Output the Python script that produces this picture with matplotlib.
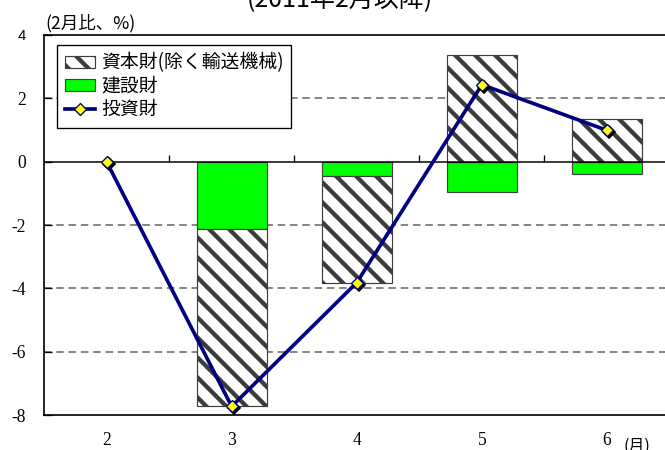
import matplotlib
matplotlib.use("Agg")
import matplotlib.pyplot as plt
import numpy as np
from matplotlib.lines import Line2D
from matplotlib.patches import Patch
from matplotlib.transforms import offset_copy

# ---- data -------------------------------------------------------------
months = [2, 3, 4, 5, 6]
capital = [0.0, -5.59, -3.36, 3.38, 1.35]        # 資本財(除く輸送機械)
construction = [0.0, -2.14, -0.46, -0.97, -0.40]  # 建設財
investment = [0.0, -7.73, -3.82, 2.43, 0.99]      # 投資財
yticks = [4, 2, 0, -2, -4, -6, -8]
series_names = ["資本財(除く輸送機械)", "建設財", "投資財"]
title_text = "(2011年2月以降)"
unit_text = "(2月比、%)"
month_unit = "(月)"

# ---- style ------------------------------------------------------------
CJK = ["Noto Sans CJK JP", "DejaVu Sans"]
SERIF = ["Liberation Serif", "DejaVu Serif"]
SANS = ["Liberation Sans", "DejaVu Sans"]
plt.rcParams["font.family"] = CJK
plt.rcParams["hatch.linewidth"] = 2.6
GREEN = "#00ff00"
NAVY = "#000080"

DPI = 120
fig = plt.figure(figsize=(665 / DPI, 450 / DPI), dpi=DPI)
# the plot area runs a little past the right edge of the figure
ax = fig.add_axes([44 / 665, 1 - 415 / 450,
                   (669.5 - 44) / 665, (415 - 35) / 450])

x = np.array(months, dtype=float)
cap = np.array(capital)
con = np.array(construction)
inv = np.array(investment)
width = 0.56

def edge_widths(vals, lw=0.7):
    # no outline for empty bars
    return [0 if v == 0 else lw for v in vals]

# construction goods sit next to zero; capital goods stack beyond them
ax.bar(x, con, width, color=GREEN, edgecolor="#404040",
       linewidth=edge_widths(con), zorder=2)
cap_bottom = np.where(np.sign(cap) == np.sign(con), con, 0.0)
ax.bar(x, cap, width, bottom=cap_bottom, color="white", edgecolor="#3c3c3c",
       hatch="\\\\", linewidth=edge_widths(cap), zorder=2)

# investment goods line with shadowed diamond markers
ax.plot(x, inv, color=NAVY, lw=2.2, zorder=4, solid_capstyle="round")
shadow = offset_copy(ax.transData, fig=fig, x=2, y=-2, units="dots")
ax.plot(x, inv, ls="none", marker="D", ms=5.5, color="black", mec="black",
        transform=shadow, zorder=5)
ax.plot(x, inv, ls="none", marker="D", ms=5.5, color="#ffff00", mec=NAVY,
        mew=0.8, zorder=6)

# axes
ax.set_xlim(1.5, 6.5)
ax.set_ylim(-8, 4)
ax.set_yticks(yticks)
ax.set_yticklabels([str(v) for v in yticks])
for lab in ax.get_yticklabels():
    lab.set_fontfamily(SERIF)
    lab.set_fontsize(10.5)
ax.get_yticklabels()[0].set_fontfamily(SANS)
ax.get_yticklabels()[0].set_fontsize(9)
ax.tick_params(axis="y", direction="in", length=4.5, width=0.8, pad=11)

ax.set_xticks(x)
ax.set_xticklabels([str(m) for m in months], fontfamily=SERIF, fontsize=10.5)
ax.tick_params(axis="x", length=0, pad=10)

for v in yticks:
    if v in (0, 4, -8):
        continue
    ax.axhline(v, color="#606060", lw=0.9, ls=(0, (5, 3.2)), zorder=0.5)
ax.axhline(0, color="black", lw=0.9, zorder=3)
# category separator ticks on the zero line
ax.vlines(x[:-1] + 0.5, 0, 0.2, color="black", lw=0.8, zorder=3)

for side in ("left", "top", "bottom"):
    ax.spines[side].set_linewidth(1.0)
ax.spines["right"].set_visible(False)

# legend
handles = [
    Patch(facecolor="white", edgecolor="#3c3c3c", hatch="\\\\", linewidth=0.7),
    Patch(facecolor=GREEN, edgecolor="#404040", linewidth=0.7),
    Line2D([], [], color=NAVY, lw=2.2, marker="D", ms=5.5, mfc="#ffff00",
           mec=NAVY, mew=0.8),
]
leg = fig.legend(handles, series_names, loc="upper left",
                 bbox_to_anchor=(57 / 665, 1 - 45 / 450), fontsize=11.3,
                 frameon=True, fancybox=False, edgecolor="black",
                 framealpha=1, borderpad=0.4, labelspacing=0.12,
                 handlelength=1.6, handleheight=0.6, handletextpad=0.35,
                 borderaxespad=0)
leg.get_frame().set_linewidth(0.8)

# texts
fig.text(340 / 665, 1 - 7 / 450, title_text, ha="center", va="baseline",
         fontsize=15)
fig.text(45 / 665, 1 - 23 / 450, unit_text, ha="left", va="center",
         fontsize=10.5)
fig.text(637 / 665, 1 - 446 / 450, month_unit, ha="center", va="center",
         fontsize=9.5)

fig.savefig("out.png", dpi=DPI)
